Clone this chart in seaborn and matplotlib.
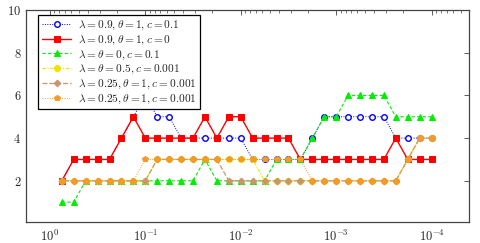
import matplotlib
matplotlib.use("Agg")
import matplotlib.pyplot as plt
import matplotlib.ticker as mticker
import seaborn as sns
import pandas as pd

sns.set_theme(style="white")
plt.rcParams["mathtext.fontset"] = "cm"
plt.rcParams["font.family"] = ["DejaVu Serif"]

# x grid (0.75^k, k = 1..32)
x_vals = [0.75, 0.5625, 0.421875, 0.31640625, 0.2373046875, 0.177978515625,
          0.13348388671875, 0.1001129150390625, 0.07508468627929688,
          0.056313514709472656, 0.04223513603210449, 0.03167635202407837,
          0.023757264018058777, 0.017817948013544083, 0.013363461010158062,
          0.010022595757618546, 0.00751694681821391, 0.005637710113660432,
          0.004228282585245324, 0.003171211938933993, 0.002378408954200495,
          0.0017838067156503712, 0.0013378550367377784, 0.0010033912775533338,
          0.0007525434581650003, 0.0005644075936237502, 0.00042330569521781267,
          0.0003174792714133595, 0.00023810945356001963, 0.00017858209017001472,
          0.00013393656762751104, 0.00010045242572063328]

blue_vals = [2, 3, 3, 3, 3, 4, 5, 6, 5, 5, 4, 4, 4, 4, 4, 4,
             3, 3, 3, 3, 3, 4, 5, 5, 5, 5, 5, 5, 4, 4, 4, 4]
red_vals = [2, 3, 3, 3, 3, 4, 5, 4, 4, 4, 4, 4, 5, 4, 5, 5,
            4, 4, 4, 4, 3, 3, 3, 3, 3, 3, 3, 3, 4, 3, 3, 3]
green_vals = [1, 1, 2, 2, 2, 2, 2, 2, 2, 2, 2, 2, 3, 2, 2, 2,
              2, 2, 3, 3, 3, 4, 5, 5, 6, 6, 6, 6, 5, 5, 5, 5]
yellow_vals = [2, 2, 2, 2, 2, 2, 2, 2, 3, 3, 3, 3, 3, 3, 3, 3,
               3, 2, 2, 2, 2, 2, 2, 2, 2, 2, 2, 2, 2, 3, 4, 4]
brown_vals = [2, 2, 2, 2, 2, 2, 2, 2, 3, 3, 3, 3, 3, 3, 2, 2,
              2, 2, 2, 2, 2, 2, 2, 2, 2, 2, 2, 2, 2, 3, 4, 4]
orange_vals = [2, 2, 2, 2, 2, 2, 2, 3, 3, 3, 3, 3, 3, 3, 3, 3,
               3, 3, 3, 3, 3, 2, 2, 2, 2, 2, 2, 2, 2, 3, 4, 4]

labels = [r"$\lambda=0.9,\theta=1,c=0.1$",
          r"$\lambda=0.9,\theta=1,c=0$",
          r"$\lambda=\theta=0,c=0.1$",
          r"$\lambda=\theta=0.5,c=0.001$",
          r"$\lambda=0.25,\theta=1,c=0.001$",
          r"$\lambda=0.25,\theta=1,c=0.001$"]

x_ticks = [1, 0.1, 0.01, 0.001, 0.0001]
x_tick_labels = [r"$10^{0}$", r"$10^{-1}$", r"$10^{-2}$", r"$10^{-3}$", r"$10^{-4}$"]
y_ticks = [2, 4, 6, 8, 10]
y_tick_labels = [r"$2$", r"$4$", r"$6$", r"$8$", r"$10$"]

styles = [
    dict(color="#0000ff", marker="o", linestyle=(0, (1, 1.5)), markersize=4.0,
         markerfacecolor="white", markeredgecolor="#0000ff", markeredgewidth=1.0, linewidth=0.7),
    dict(color="#ff0000", marker="s", linestyle="-", markersize=4.7,
         markeredgecolor="#ff0000", linewidth=1.0),
    dict(color="#00ee00", marker="^", linestyle=(0, (3, 2)), markersize=4.3,
         markeredgecolor="#00ee00", linewidth=0.8),
    dict(color="#f2e200", marker="o", linestyle=(0, (3, 1.5, 1, 1.5)), markersize=4.3,
         markeredgecolor="#f2e200", linewidth=0.8),
    dict(color="#c8966a", marker="D", linestyle=(0, (4, 1.5)), markersize=3.4,
         markeredgecolor="#c8966a", linewidth=0.9),
    dict(color="#f59a28", marker="p", linestyle=(0, (1, 1.5)), markersize=4.0,
         markeredgecolor="#f59a28", linewidth=0.7),
]
series = [blue_vals, red_vals, green_vals, yellow_vals, brown_vals, orange_vals]

fig = plt.figure(figsize=(4.8, 2.43), dpi=100)
ax = fig.add_axes([26 / 480, 21 / 243, 443 / 480, 212 / 243])

for vals, lab, st in zip(series, labels, styles):
    df = pd.DataFrame({"x": x_vals, "y": vals})
    sns.lineplot(data=df, x="x", y="y", ax=ax, label=lab, **st)

ax.set_xscale("log")
ax.set_xlim(10 ** 0.25, 10 ** -4.39)
ax.set_ylim(0.07, 10)
ax.set_xticks(x_ticks)
ax.set_xticklabels(x_tick_labels)
ax.xaxis.set_minor_locator(mticker.LogLocator(base=10, subs=range(2, 10), numticks=20))
ax.xaxis.set_minor_formatter(mticker.NullFormatter())
ax.set_yticks(y_ticks)
ax.set_yticklabels(y_tick_labels)
ax.set_xlabel("")
ax.set_ylabel("")
ax.tick_params(axis="both", which="both", direction="in", top=True, right=True,
               labelsize=9, color="#444444")
ax.tick_params(axis="both", which="major", length=3.5, width=0.6)
ax.tick_params(axis="both", which="minor", length=2, width=0.5)
ax.tick_params(axis="x", pad=5)
for sp in ax.spines.values():
    sp.set_color("#444444")
    sp.set_linewidth(0.9)

leg = ax.legend(loc="upper left", bbox_to_anchor=(0.028, 0.975), fontsize=8.2,
                frameon=True, fancybox=False, framealpha=1, edgecolor="black",
                borderpad=0.3, labelspacing=0.12, handlelength=2.6, handletextpad=0.6,
                borderaxespad=0)
leg.get_frame().set_linewidth(0.9)

fig.savefig("out.png", dpi=100)
